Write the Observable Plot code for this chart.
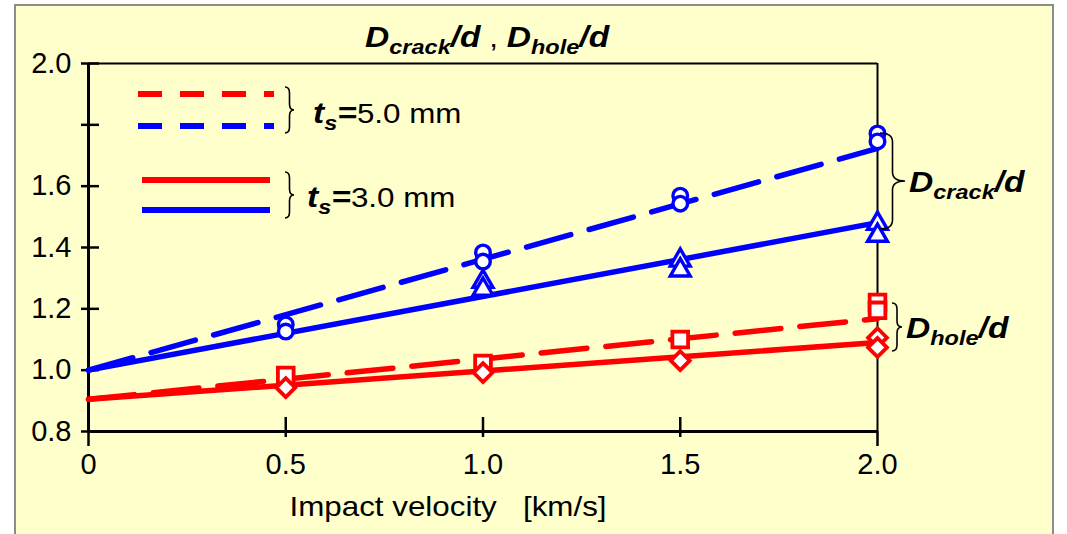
<!DOCTYPE html>
<html>
<head>
<meta charset="utf-8">
<script src="https://cdn.jsdelivr.net/npm/d3@7"></script>
<script src="https://cdn.jsdelivr.net/npm/@observablehq/plot@0.6"></script>
<style>
  html, body { margin: 0; padding: 0; background: #ffffff; }
  #wrap { position: relative; width: 1067px; height: 534px; overflow: hidden; }
  #box { position: absolute; left: 14px; top: 4px; width: 1040px; height: 560px;
         background: #ffffcc; border: 2px solid #8c8c8c; box-sizing: border-box; }
  #chart { position: absolute; left: 0; top: 0; }
</style>
</head>
<body>
<div id="wrap"><div id="box"></div><div id="chart"></div></div>
<script>
// ---- tick labels ----
const xTicks = [0, 0.5, 1.0, 1.5, 2.0];
const xTickLabels = ["0", "0.5", "1.0", "1.5", "2.0"];
const yTicks = [0.8, 1.0, 1.2, 1.4, 1.6, 1.8, 2.0];
const yTickLabels = ["0.8", "1.0", "1.2", "1.4", "1.6", "", "2.0"];

// ---- fitted lines (velocity km/s -> ratio) ----
const fitVelocity = [0, 2.0];
const crackFit5 = [1.0, 1.723];   // ts = 5.0 mm, Dcrack/d (blue dashed)
const crackFit3 = [1.0, 1.481];   // ts = 3.0 mm, Dcrack/d (blue solid)
const holeFit5  = [0.905, 1.168]; // ts = 5.0 mm, Dhole/d (red dashed)
const holeFit3  = [0.905, 1.09];  // ts = 3.0 mm, Dhole/d (red solid)

// ---- measured points ----
const circleV = [0.5, 0.5, 1.0, 1.0, 1.5, 1.5, 2.0, 2.0];
const circleD = [1.149, 1.126, 1.384, 1.354, 1.569, 1.543, 1.772, 1.746];
const triV = [1.0, 1.0, 1.5, 1.5, 2.0, 2.0];
const triD = [1.289, 1.263, 1.358, 1.326, 1.478, 1.439];
const squareV = [0.5, 1.0, 1.5, 2.0, 2.0];
const squareD = [0.983, 1.022, 1.100, 1.221, 1.195];
const diamondV = [0.5, 1.0, 1.5, 2.0, 2.0];
const diamondD = [0.943, 0.992, 1.031, 1.106, 1.074];

const RED = "#ff0000", BLUE = "#0000ff";
const zip = (xs, ys) => xs.map((x, i) => ({x, y: ys[i]}));
const lineOpts = (stroke, dash) => ({x: "x", y: "y", stroke, strokeWidth: 5.5, strokeDasharray: dash});
const DASH = "46,19";
const LEG_DASH = "24,18";
const xFmt = d => xTickLabels[xTicks.indexOf(d)];
const yFmt = d => yTickLabels[yTicks.indexOf(d)];
const none = () => "";

const chart = Plot.plot({
  width: 1067, height: 534,
  marginLeft: 88, marginRight: 190, marginTop: 63, marginBottom: 103,
  x: {domain: [0, 2]},
  y: {domain: [0.8, 2.0]},
  style: {background: "transparent", fontFamily: "'Liberation Sans', Arial, sans-serif", color: "#000"},
  marks: [
    Plot.axisX(xTicks, {tickSize: 0, tickPadding: 22, tickFormat: xFmt, fontSize: 29, label: null}),
    Plot.axisY(yTicks, {tickSize: 0, tickPadding: 17, tickFormat: yFmt, fontSize: 29, label: null}),
    Plot.axisY(yTicks, {tickSize: 18, dx: 11, tickFormat: none, strokeWidth: 2.5, label: null}),
    Plot.axisX([0.5, 1.0, 1.5], {tickSize: 20, dy: -14, tickFormat: none, strokeWidth: 2.5, label: null}),
    Plot.axisX([0, 2.0], {tickSize: 15, tickFormat: none, strokeWidth: 2.5, label: null}),
    Plot.ruleY([2.0], {strokeWidth: 2}),
    Plot.ruleX([2.0], {strokeWidth: 2}),
    Plot.ruleX([0], {strokeWidth: 3}),
    Plot.ruleY([0.8], {strokeWidth: 3}),
    Plot.line(zip(fitVelocity, holeFit3), lineOpts(RED)),
    Plot.line(zip(fitVelocity, holeFit5), lineOpts(RED, DASH)),
    Plot.line(zip(fitVelocity, crackFit3), lineOpts(BLUE)),
    Plot.line(zip(fitVelocity, crackFit5), lineOpts(BLUE, DASH)),
    Plot.dot(zip(circleV, circleD), {x: "x", y: "y", symbol: "circle", r: 7.3, stroke: BLUE, fill: "white", strokeWidth: 3.4}),
    Plot.dot(zip(triV, triD), {x: "x", y: "y", symbol: "triangle2", r: 9.5, stroke: BLUE, fill: "white", strokeWidth: 3.4}),
    Plot.dot(zip(squareV, squareD), {x: "x", y: "y", symbol: "square2", r: 10, stroke: RED, fill: "white", strokeWidth: 3.8}),
    Plot.dot(zip(diamondV, diamondD), {x: "x", y: "y", symbol: "diamond2", r: 8.5, stroke: RED, fill: "white", strokeWidth: 3.8})
  ]
});
document.getElementById("chart").appendChild(chart);

// ---- annotations: legend, braces, titles ----
const svg = d3.select(chart);
const g = svg.append("g").attr("font-family", "'Liberation Sans', Arial, sans-serif").attr("fill", "#000");

// legend swatches
const leg = [
  {x1: 138, x2: 274, y: 94, c: RED, dash: LEG_DASH},
  {x1: 138, x2: 274, y: 126, c: BLUE, dash: LEG_DASH},
  {x1: 142, x2: 270, y: 180, c: RED, dash: null},
  {x1: 142, x2: 270, y: 210, c: BLUE, dash: null}
];
leg.forEach(d => g.append("line").attr("x1", d.x1).attr("x2", d.x2).attr("y1", d.y).attr("y2", d.y)
  .attr("stroke", d.c).attr("stroke-width", 6).attr("stroke-dasharray", d.dash));

function brace(x, yTop, yBot, w, r) {
  const ym = (yTop + yBot) / 2, s = x + w / 2;
  return `M${x},${yTop} Q${s},${yTop} ${s},${yTop + r} L${s},${ym - r} Q${s},${ym} ${x + w},${ym}` +
         ` Q${s},${ym} ${s},${ym + r} L${s},${yBot - r} Q${s},${yBot} ${x},${yBot}`;
}
[[285, 87, 133, 9, 6], [285, 172, 218, 9, 6], [880, 133, 229, 25, 9], [892, 303, 351, 10, 6]]
  .forEach(b => g.append("path").attr("d", brace(...b)).attr("fill", "none").attr("stroke", "#000").attr("stroke-width", 1.6));

function rich(x, y, parts, anchor = "start") {
  const t = g.append("text").attr("transform", `translate(${x},${y}) scale(1.12,1)`).attr("text-anchor", anchor)
    .style("white-space", "pre").attr("xml:space", "preserve");
  parts.forEach(p => {
    const s = t.append("tspan").text(p.t).attr("font-size", p.size)
      .attr("font-weight", p.b ? "bold" : "normal").attr("font-style", p.i ? "italic" : "normal");
    if (p.dy) s.attr("dy", p.dy);
  });
  return t;
}
const frac = (sub, M, S, drop) => [
  {t: "D", size: M, b: 1, i: 1},
  {t: sub, size: S, b: 1, i: 1, dy: drop},
  {t: "/d", size: M, b: 1, i: 1, dy: -drop}
];
rich(365, 47, [...frac("crack", 30, 21, 7), {t: " , ", size: 28}, ...frac("hole", 30, 21, 7)]);
rich(313, 123, [{t: "t", size: 30, b: 1, i: 1}, {t: "s", size: 21, b: 1, i: 1, dy: 7}, {t: "=", size: 30, b: 1, i: 1, dy: -7}, {t: "5.0 mm", size: 28}]);
rich(307, 207, [{t: "t", size: 30, b: 1, i: 1}, {t: "s", size: 21, b: 1, i: 1, dy: 7}, {t: "=", size: 30, b: 1, i: 1, dy: -7}, {t: "3.0 mm", size: 28}]);
rich(909, 192, frac("crack", 30, 21, 7));
rich(906, 338, frac("hole", 30, 21, 7));
rich(448, 516, [{t: "Impact velocity   [km/s]", size: 28}], "middle");
</script>
</body>
</html>
